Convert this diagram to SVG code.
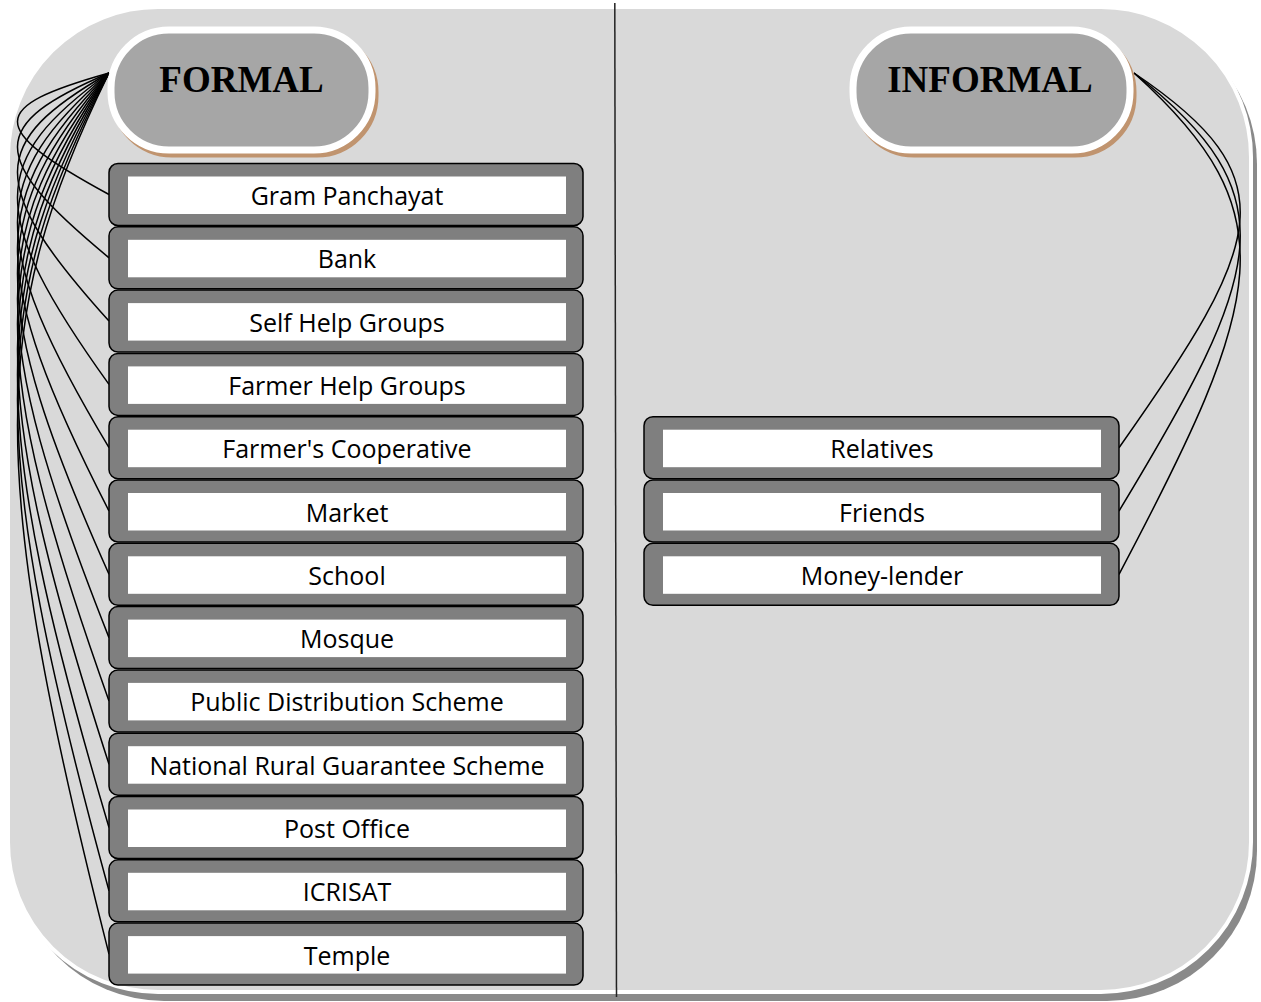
<svg xmlns="http://www.w3.org/2000/svg" width="1261" height="1002" viewBox="0 0 1261 1002">
<style>
.panel{fill:#d9d9d9;stroke:#ffffff;stroke-width:4}
.panel-shadow{fill:#8a8a8a}
.pill{fill:#a6a6a6;stroke:#ffffff;stroke-width:7}
.pill-shadow{fill:#c0946f;stroke:#c0946f;stroke-width:7}
.head{font-family:"Liberation Serif","Times New Roman",serif;font-weight:bold;font-size:37px;fill:#000;text-anchor:middle}
.box{fill:#7f7f7f;stroke:#000;stroke-width:1.5}
.inner{fill:#ffffff}
.lbl{font-family:"Open Sans","Noto Sans","Liberation Sans",sans-serif;font-size:25px;fill:#000;text-anchor:middle}
.conn path{fill:none;stroke:#000;stroke-width:1.5}
</style>
<g id="background">
<rect class="panel-shadow" x="14" y="14" width="1243" height="987" rx="150" ry="150"/>
<rect class="panel" x="8" y="7" width="1243" height="985" rx="150" ry="150"/>
<line x1="614.8" y1="3" x2="616.5" y2="997" stroke="#222" stroke-width="1.5"/>
</g>
<g id="connectors" class="conn">
<path d="M109,73 C-12,107.0 -14,127.7 109,194.5"/>
<path d="M109,73 C-12,124.7 -14,156.2 109,257.8"/>
<path d="M109,73 C-12,142.5 -14,184.6 109,321.1"/>
<path d="M109,73 C-12,160.2 -14,213.1 109,384.4"/>
<path d="M109,73 C-12,177.9 -14,241.6 109,447.7"/>
<path d="M109,73 C-12,195.6 -14,270.1 109,511.0"/>
<path d="M109,73 C-12,213.4 -14,298.6 109,574.3"/>
<path d="M109,73 C-12,231.1 -14,327.1 109,637.6"/>
<path d="M109,73 C-12,248.8 -14,355.6 109,700.9"/>
<path d="M109,73 C-12,266.5 -14,384.0 109,764.2"/>
<path d="M109,73 C-12,284.3 -14,412.5 109,827.5"/>
<path d="M109,73 C-12,302.0 -14,441.0 109,890.8"/>
<path d="M109,73 C-12,319.7 -14,469.5 109,954.1"/>
<path d="M1134,73 C1290,177.9 1265,241.6 1119,447.7"/>
<path d="M1134,73 C1290,195.6 1265,270.1 1119,511.0"/>
<path d="M1134,73 C1290,213.4 1265,298.6 1119,574.3"/>
</g>
<g id="formal">
<rect class="pill-shadow" x="114" y="34" width="261" height="120" rx="58" ry="58"/>
<rect class="pill" x="111" y="30" width="261" height="120" rx="58" ry="58"/>
<text class="head" x="241.5" y="92">FORMAL</text>
</g>
<g id="informal">
<rect class="pill-shadow" x="856" y="34" width="277" height="120" rx="58" ry="58"/>
<rect class="pill" x="853" y="30" width="277" height="120" rx="58" ry="58"/>
<text class="head" x="990" y="92">INFORMAL</text>
</g>
<g id="gram-panchayat" transform="translate(109,163.5)"><rect class="box" width="474" height="62" rx="9"/><rect class="inner" x="19" y="13" width="438" height="37.5"/><text class="lbl" x="238" y="41.5">Gram Panchayat</text></g>
<g id="bank" transform="translate(109,226.8)"><rect class="box" width="474" height="62" rx="9"/><rect class="inner" x="19" y="13" width="438" height="37.5"/><text class="lbl" x="238" y="41.5">Bank</text></g>
<g id="self-help-groups" transform="translate(109,290.1)"><rect class="box" width="474" height="62" rx="9"/><rect class="inner" x="19" y="13" width="438" height="37.5"/><text class="lbl" x="238" y="41.5">Self Help Groups</text></g>
<g id="farmer-help-groups" transform="translate(109,353.4)"><rect class="box" width="474" height="62" rx="9"/><rect class="inner" x="19" y="13" width="438" height="37.5"/><text class="lbl" x="238" y="41.5">Farmer Help Groups</text></g>
<g id="farmers-cooperative" transform="translate(109,416.7)"><rect class="box" width="474" height="62" rx="9"/><rect class="inner" x="19" y="13" width="438" height="37.5"/><text class="lbl" x="238" y="41.5">Farmer's Cooperative</text></g>
<g id="market" transform="translate(109,480)"><rect class="box" width="474" height="62" rx="9"/><rect class="inner" x="19" y="13" width="438" height="37.5"/><text class="lbl" x="238" y="41.5">Market</text></g>
<g id="school" transform="translate(109,543.3)"><rect class="box" width="474" height="62" rx="9"/><rect class="inner" x="19" y="13" width="438" height="37.5"/><text class="lbl" x="238" y="41.5">School</text></g>
<g id="mosque" transform="translate(109,606.6)"><rect class="box" width="474" height="62" rx="9"/><rect class="inner" x="19" y="13" width="438" height="37.5"/><text class="lbl" x="238" y="41.5">Mosque</text></g>
<g id="pds" transform="translate(109,669.9)"><rect class="box" width="474" height="62" rx="9"/><rect class="inner" x="19" y="13" width="438" height="37.5"/><text class="lbl" x="238" y="41.5">Public Distribution Scheme</text></g>
<g id="nrgs" transform="translate(109,733.2)"><rect class="box" width="474" height="62" rx="9"/><rect class="inner" x="19" y="13" width="438" height="37.5"/><text class="lbl" x="238" y="41.5">National Rural Guarantee Scheme</text></g>
<g id="post-office" transform="translate(109,796.5)"><rect class="box" width="474" height="62" rx="9"/><rect class="inner" x="19" y="13" width="438" height="37.5"/><text class="lbl" x="238" y="41.5">Post Office</text></g>
<g id="icrisat" transform="translate(109,859.8)"><rect class="box" width="474" height="62" rx="9"/><rect class="inner" x="19" y="13" width="438" height="37.5"/><text class="lbl" x="238" y="41.5">ICRISAT</text></g>
<g id="temple" transform="translate(109,923.1)"><rect class="box" width="474" height="62" rx="9"/><rect class="inner" x="19" y="13" width="438" height="37.5"/><text class="lbl" x="238" y="41.5">Temple</text></g>
<g id="relatives" transform="translate(644,416.7)"><rect class="box" width="475" height="62" rx="9"/><rect class="inner" x="19" y="13" width="438" height="37.5"/><text class="lbl" x="238" y="41.5">Relatives</text></g>
<g id="friends" transform="translate(644,480)"><rect class="box" width="475" height="62" rx="9"/><rect class="inner" x="19" y="13" width="438" height="37.5"/><text class="lbl" x="238" y="41.5">Friends</text></g>
<g id="money-lender" transform="translate(644,543.3)"><rect class="box" width="475" height="62" rx="9"/><rect class="inner" x="19" y="13" width="438" height="37.5"/><text class="lbl" x="238" y="41.5">Money-lender</text></g>
</svg>
